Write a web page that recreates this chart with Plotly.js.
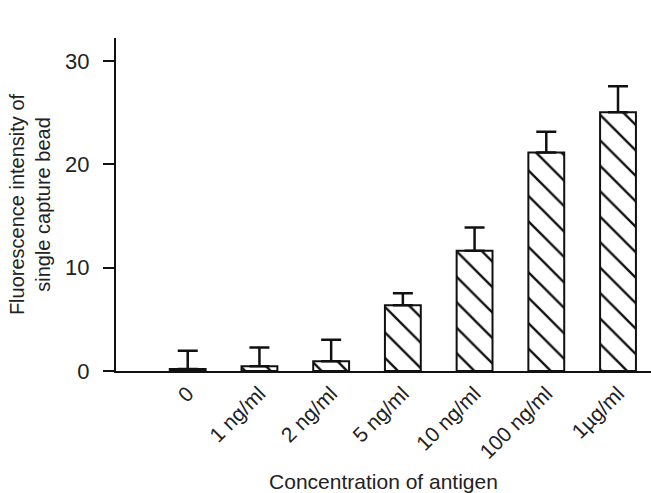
<!DOCTYPE html>
<html>
<head>
<meta charset="utf-8">
<script src="https://cdn.plot.ly/plotly-3.0.1.min.js"></script>
<style>html,body{margin:0;padding:0;background:#fff;}#chart{width:651px;height:493px;}</style>
</head>
<body>
<div id="chart"></div>
<script>
const categories = ['0', '1 ng/ml', '2 ng/ml', '5 ng/ml', '10 ng/ml', '100 ng/ml', '1\u00b5g/ml'];
const intensity = [0.2, 0.46, 0.95, 6.37, 11.64, 21.15, 25.05];
const errorPlus = [1.76, 1.81, 2.07, 1.16, 2.26, 2.03, 2.52];
const errorMinus = [0, 0, 0, 0, 0, 0, 0];
const yTicks = [0, 10, 20, 30];

const trace = {
  type: 'bar',
  x: categories,
  y: intensity,
  marker: {
    color: '#ffffff',
    line: {color: '#111111', width: 2},
    pattern: {shape: '\\', size: 18, solidity: 0.13, fgcolor: '#111111', bgcolor: '#ffffff'}
  },
  error_y: {
    type: 'data', symmetric: false, array: errorPlus, arrayminus: errorMinus,
    color: '#111111', thickness: 2.5, width: 10
  },
  hoverinfo: 'none'
};

const font = {family: '"Liberation Sans", Arial, Helvetica, sans-serif', color: '#222222'};

const layout = {
  width: 651, height: 493,
  margin: {l: 116, r: 0, t: 38, b: 121.5},
  paper_bgcolor: '#ffffff', plot_bgcolor: '#ffffff',
  showlegend: false,
  bargap: 0.5,
  font: font,
  xaxis: {
    type: 'category',
    range: [-1, 6.46],
    showline: true, linecolor: '#111111', linewidth: 2,
    ticks: '', showgrid: false, zeroline: false,
    tickangle: -45,
    tickfont: {size: 21, family: font.family, color: '#222222'},
    title: {text: 'Concentration of antigen', font: {size: 21, family: font.family, color: '#222222'}, standoff: 15},
    automargin: false
  },
  yaxis: {
    range: [0, 32.25],
    tickvals: yTicks,
    showline: true, linecolor: '#111111', linewidth: 2,
    ticks: 'outside', ticklen: 11, tickwidth: 2, tickcolor: '#111111',
    ticklabelstandoff: 9,
    showgrid: false, zeroline: false,
    tickfont: {size: 22, family: font.family, color: '#222222'},
    title: {text: 'Fluorescence intensity of<br>single capture bead', font: {size: 20, family: font.family, color: '#222222'}, standoff: 9},
    automargin: false
  }
};

Plotly.newPlot('chart', [trace], layout, {displayModeBar: false, staticPlot: true});
</script>
</body>
</html>
